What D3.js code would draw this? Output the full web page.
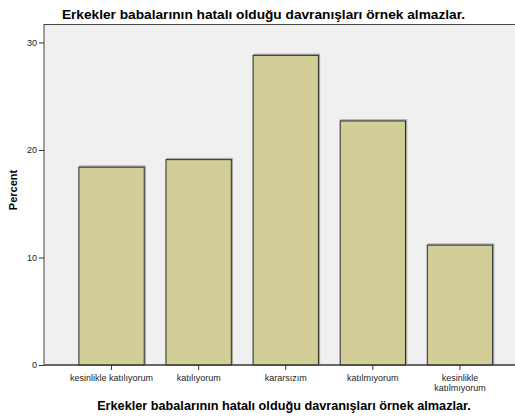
<!DOCTYPE html>
<html>
<head>
  <script src="https://d3js.org/d3.v7.min.js"></script>
  <style>
    body { margin: 0; background: #fff; font-family: "Liberation Sans", Arial, sans-serif; }
    .axis text { font-size: 9px; fill: #222; }
    .axis path, .axis line { stroke: #333; }
  </style>
</head>
<body>
  <div id="chart"></div>
  <script>
    const chartTitle = "Erkekler babalarının hatalı olduğu davranışları örnek almazlar.";
    const categories = [
      ["kesinlikle katılıyorum"],
      ["katılıyorum"],
      ["kararsızım"],
      ["katılmıyorum"],
      ["kesinlikle", "katılmıyorum"]
    ];
    const percents = [18.4, 19.1, 28.8, 22.7, 11.15];
    const yTicks = [0, 10, 20, 30];

    const W = 515, H = 420;
    const plot = {left: 44, right: 515, top: 24.5, bottom: 365};

    const svg = d3.select("#chart").append("svg")
      .attr("width", W).attr("height", H);

    const x = d3.scaleBand()
      .domain(d3.range(categories.length))
      .range([68, 503.5])
      .paddingInner(0.25)
      .paddingOuter(0.125);

    const y = d3.scaleLinear()
      .domain([0, 31.67])
      .range([plot.bottom, plot.top]);

    // plot background
    svg.append("rect")
      .attr("x", plot.left).attr("y", plot.top)
      .attr("width", plot.right - plot.left + 5)
      .attr("height", plot.bottom - plot.top)
      .attr("fill", "#f0f0f0")
      .attr("stroke", "#444")
      .attr("stroke-width", 1);

    // bars with a faint shadow
    svg.selectAll(".shadow")
      .data(percents)
      .enter().append("rect")
      .attr("x", (d, i) => x(i) + 1)
      .attr("y", d => y(d) - 1)
      .attr("width", x.bandwidth())
      .attr("height", d => plot.bottom - y(d) + 1)
      .attr("fill", "none")
      .attr("stroke", "#aaa")
      .attr("stroke-width", 1.5);

    svg.selectAll(".bar")
      .data(percents)
      .enter().append("rect")
      .attr("class", "bar")
      .attr("x", (d, i) => x(i))
      .attr("y", d => y(d))
      .attr("width", x.bandwidth())
      .attr("height", d => plot.bottom - y(d))
      .attr("fill", "#d3ce97")
      .attr("stroke", "#2a2a2a")
      .attr("stroke-width", 1);

    // y axis
    svg.append("g")
      .attr("class", "axis")
      .attr("transform", `translate(${plot.left},0)`)
      .call(d3.axisLeft(y).tickValues(yTicks).tickSize(5).tickPadding(2))
      .call(g => g.select(".domain").remove());

    // x axis
    const xAxis = svg.append("g")
      .attr("class", "axis")
      .attr("transform", `translate(0,${plot.bottom})`)
      .call(d3.axisBottom(x).tickSize(5).tickFormat(""))
      .call(g => g.select(".domain").remove());

    xAxis.selectAll(".tick").each(function(d) {
      const t = d3.select(this).append("text")
        .attr("fill", "#222")
        .attr("font-size", "8.3px")
        .attr("text-anchor", "middle")
        .attr("y", 16);
      categories[d].forEach((line, k) => {
        t.append("tspan").attr("x", 0).attr("dy", k ? 10 : 0).text(line);
      });
    });

    svg.append("line")
      .attr("x1", plot.left).attr("x2", W)
      .attr("y1", plot.bottom).attr("y2", plot.bottom)
      .attr("stroke", "#333");

    // titles
    svg.append("text")
      .attr("x", 263.5).attr("y", 19)
      .attr("text-anchor", "middle")
      .attr("font-size", "13.7px").attr("font-weight", "bold")
      .text(chartTitle);

    svg.append("text")
      .attr("x", 284).attr("y", 410)
      .attr("text-anchor", "middle")
      .attr("font-size", "12.7px").attr("font-weight", "bold")
      .text(chartTitle);

    svg.append("text")
      .attr("transform", "translate(17,190) rotate(-90)")
      .attr("text-anchor", "middle")
      .attr("font-size", "11px").attr("font-weight", "bold")
      .text("Percent");
  </script>
</body>
</html>
